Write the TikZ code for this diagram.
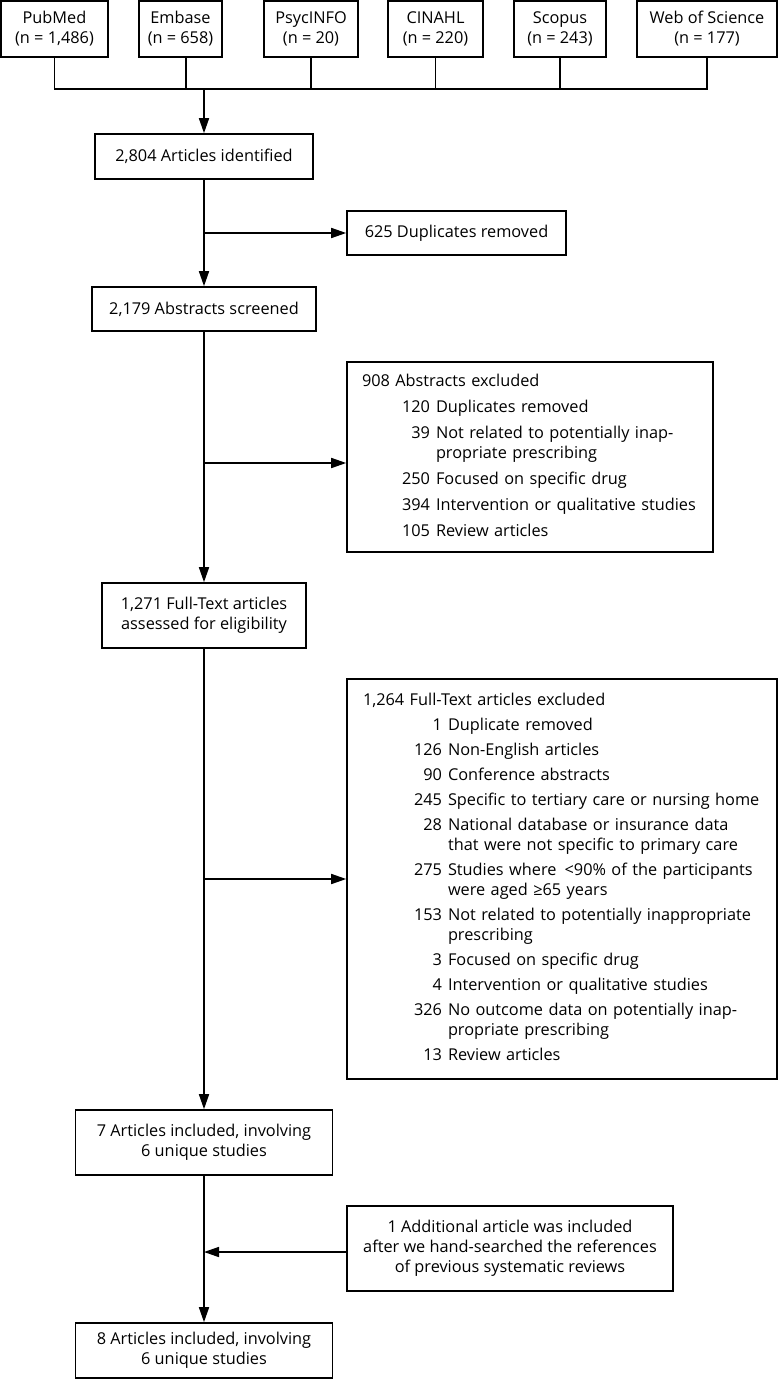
\documentclass[tikz,border=0pt]{standalone}
\usepackage{fontspec}
\setmainfont{Open Sans}
\usepackage{array}
\usetikzlibrary{arrows.meta}
\newcolumntype{R}[1]{>{\raggedleft\arraybackslash}p{#1}}

\begin{document}
\begin{tikzpicture}[x=1pt,y=-1pt,line width=1.6pt,
        box/.style={draw, inner sep=0pt, align=center, font=\fontsize{16.3}{20}\selectfont},
        listbox/.style={draw, inner ysep=0pt, align=left, font=\fontsize{16.3}{20}\selectfont},
        >={Triangle[length=15pt,width=10pt]}]
        \useasboundingbox (0,0) rectangle (780,1388);

        % Databases
        \node[box, minimum width=107, minimum height=56] (pubmed) at (54.5,29) {PubMed\\(n = 1,486)};
        \node[box, minimum width=83, minimum height=56] (embase) at (180.5,29) {Embase\\(n = 658)};
        \node[box, minimum width=94, minimum height=56] (psycinfo) at (311,29) {PsycINFO\\(n = 20)};
        \node[box, minimum width=95, minimum height=56] (cinahl) at (435.5,29) {CINAHL\\(n = 220)};
        \node[box, minimum width=92, minimum height=56] (scopus) at (560,29) {Scopus\\(n = 243)};
        \node[box, minimum width=140, minimum height=56] (wos) at (707,29) {Web of Science\\(n = 177)};

        % Collecting line
        \coordinate (bus) at (204,89);
        \coordinate (embus) at (186,89);
        \draw (pubmed.south) -- (pubmed.south |- bus) -- (wos.south |- bus) -- (wos.south);
        \draw (embus) -- (embus |- embase.south);
        \foreach \db in {psycinfo,cinahl,scopus}
            \draw (\db.south) -- (\db.south |- bus);

        % Main flow
        \node[box, minimum width=218, minimum height=45] (ident) at (204,156.5) {2,804 Articles identified};
        \node[box, minimum width=219, minimum height=44] (dup) at (456.5,233) {625 Duplicates removed};
        \node[box, minimum width=224, minimum height=44] (screen) at (204,309) {2,179 Abstracts screened};
        \node[box, minimum width=204, minimum height=65] (fulltext) at (204,615.5) {1,271 Full-Text articles\\assessed for eligibility};
        \node[box, minimum width=257, minimum height=65] (incl7) at (204,1142.5) {7 Articles included, involving\\6 unique studies};
        \node[box, minimum width=257, minimum height=55] (incl8) at (204,1350.5) {8 Articles included, involving\\6 unique studies};
        \node[box, minimum width=326, minimum height=85] (addart) at (510,1248.5) {1 Additional article was included\\after we hand-searched the references\\of previous systematic reviews};

        % Excluded abstracts
        \node[listbox, text width=336, inner xsep=15, minimum height=190] (absexcl) at (530,457) {%
            \begin{tabular}{@{}R{68pt}@{\hspace{6pt}}l@{}}
                \multicolumn{2}{@{}l}{908 Abstracts excluded}\\[6pt]
                120 & Duplicates removed\\[6pt]
                39 & Not related to potentially inap-\\
                   & propriate prescribing\\[6pt]
                250 & Focused on specific drug\\[6pt]
                394 & Intervention or qualitative studies\\[6pt]
                105 & Review articles
            \end{tabular}};

        % Excluded full texts
        \node[listbox, text width=398, inner xsep=16, minimum height=400] (ftexcl) at (562,879) {%
            \begin{tabular}{@{}R{79pt}@{\hspace{6pt}}l@{}}
                \multicolumn{2}{@{}l}{1,264 Full-Text articles excluded}\\[5pt]
                1 & Duplicate removed\\[5pt]
                126 & Non-English articles\\[5pt]
                90 & Conference abstracts\\[5pt]
                245 & Specific to tertiary care or nursing home\\[5pt]
                28 & National database or insurance data\\
                   & that were not specific to primary care\\[5pt]
                275 & Studies where \,<90\% of the participants\\
                    & were aged ≥65 years\\[5pt]
                153 & Not related to potentially inappropriate\\
                    & prescribing\\[5pt]
                3 & Focused on specific drug\\[5pt]
                4 & Intervention or qualitative studies\\[5pt]
                326 & No outcome data on potentially inap-\\
                    & propriate prescribing\\[5pt]
                13 & Review articles
            \end{tabular}};

        % Arrows
        \coordinate (dupbr) at (204,233);
        \coordinate (absbr) at (204,463);
        \coordinate (addbr) at (204,1252);
        \draw[->] (bus) -- (ident);
        \draw[->] (ident) -- (screen);
        \draw[->] (dupbr) -- (dup);
        \draw[->] (screen) -- (fulltext);
        \draw[->] (absbr) -- (absbr -| absexcl.west);
        \draw[->] (fulltext) -- (incl7);
        \draw[->] (fulltext |- ftexcl) -- (ftexcl);
        \draw[->] (incl7) -- (incl8);
        \draw[->] (addart.west |- addbr) -- (addbr);
    \end{tikzpicture}
\end{document}
